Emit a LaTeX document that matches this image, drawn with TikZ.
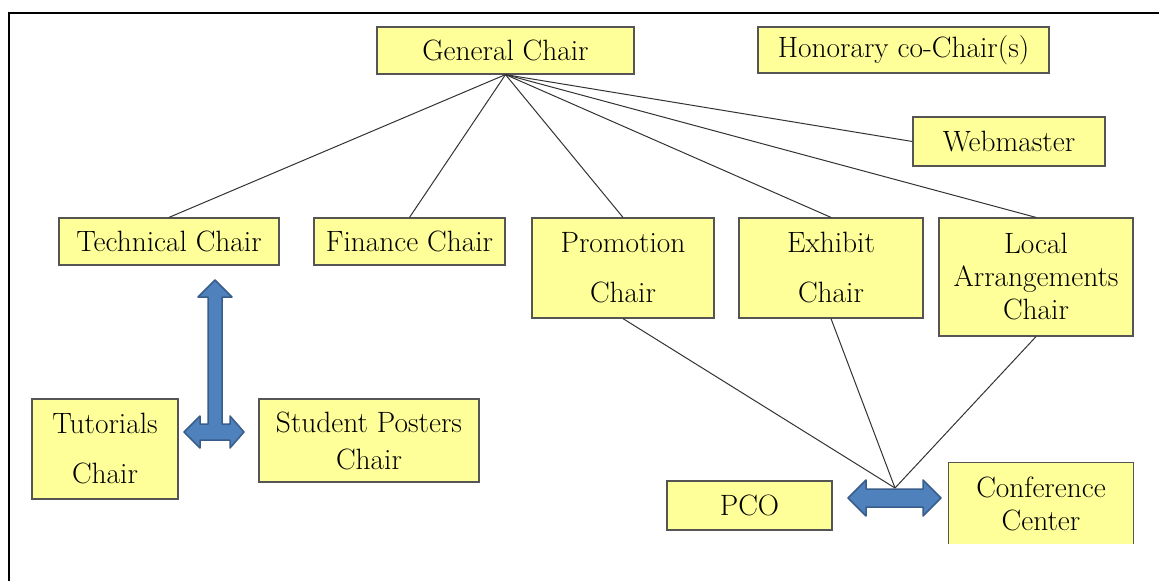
\documentclass[tikz,border=0pt]{standalone}
\definecolor{boxfill}{HTML}{FFFF99}
\definecolor{boxline}{HTML}{555555}
\definecolor{arrfill}{HTML}{4F81BD}
\definecolor{arrline}{HTML}{385D8A}
\definecolor{conn}{HTML}{333333}
\begin{document}
\begin{tikzpicture}[x=1pt,y=-1pt,
  box/.style={draw=boxline, line width=1.2pt, fill=boxfill, inner sep=0pt, align=center,
    font=\fontsize{29.4}{33}\selectfont},
  conbox/.style={fill=boxfill, inner sep=0pt, align=center, font=\fontsize{29.4}{33}\selectfont},
  link/.style={draw=conn, line width=1pt},
  bigarrow/.style={fill=arrfill, draw=arrline, line width=1.5pt, line join=round}]
\useasboundingbox (0,0) rectangle (1159,581);
\fill[white] (0,0) rectangle (1159,581);
% frame
\draw[line width=2pt] (9,581) -- (9,13) -- (1159,13);
% boxes
\node[box, minimum width=257pt, minimum height=47pt] (gen) at (505.5,50.5) {General Chair};
\node[box, minimum width=291pt, minimum height=46pt] (hon) at (903.5,50) {Honorary co-Chair(s)};
\node[box, minimum width=192pt, minimum height=49pt] (web) at (1009,141.5) {Webmaster};
\node[box, minimum width=220pt, minimum height=47pt] (tech) at (169,241.5) {Technical Chair};
\node[box, minimum width=191pt, minimum height=47pt] (fin) at (409.5,241.5) {Finance Chair};
\node[box, minimum width=182pt, minimum height=100pt] (promo) at (623,268) {Promotion\\[17pt]Chair};
\node[box, minimum width=184pt, minimum height=100pt] (exh) at (831,268) {Exhibit\\[17pt]Chair};
\node[box, minimum width=194pt, minimum height=118pt] (local) at (1036,277) {Local\\Arrangements\\Chair};
\node[box, minimum width=146pt, minimum height=100pt] (tut) at (105,449) {Tutorials\\[17pt]Chair};
\node[box, minimum width=220pt, minimum height=83pt] (stud) at (369,440.5) {Student Posters\\[4pt]Chair};
\node[box, minimum width=165pt, minimum height=49pt] (pco) at (749.5,505.5) {PCO};
\node[conbox, minimum width=184pt, minimum height=81pt] (cc) at (1041,503.5) {Conference\\Center};
\draw[draw=boxline, line width=1.2pt] (cc.south west) |- (cc.north east) -- (cc.south east);
% connectors from General Chair
\foreach \t in {tech, fin, promo, exh, local} \draw[link] (gen.south) -- (\t.north);
\draw[link] (gen.south) -- (web.west);
% connectors to PCO / Conference Center
\coordinate (meet) at (895,488);
\foreach \s in {promo, exh, local} \draw[link] (\s.south) -- (meet);
% three-way arrow
\draw[bigarrow] (215,280) -- (232,297) -- (222,297) -- (222,424) -- (230,424) -- (230,416)
  -- (244,432) -- (230,448) -- (230,440) -- (200,440) -- (200,448) -- (184,432)
  -- (200,416) -- (200,424) -- (208,424) -- (208,297) -- (198,297) -- cycle;
% horizontal double arrow
\draw[bigarrow] (848,498) -- (866,480) -- (866,489) -- (923,489) -- (923,480) -- (941,498)
  -- (923,516) -- (923,507) -- (866,507) -- (866,516) -- cycle;
\end{tikzpicture}
\end{document}
